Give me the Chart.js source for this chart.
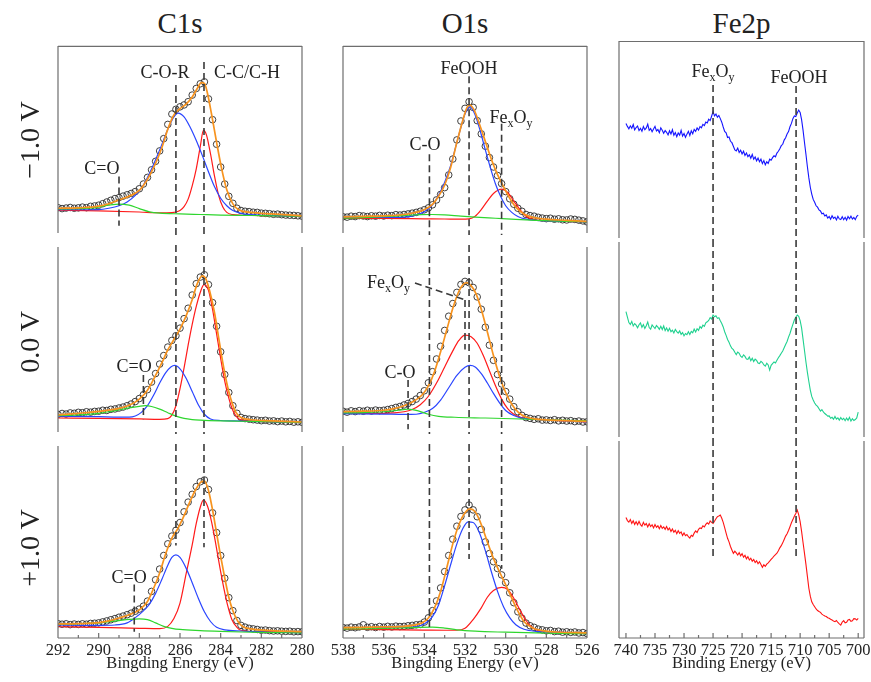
<!DOCTYPE html>
<html>
<head>
<meta charset="utf-8">
<script src="https://cdn.jsdelivr.net/npm/chart.js@4.4.0/dist/chart.umd.min.js"></script>
<style>
  html, body { margin: 0; padding: 0; overflow: hidden; background: #fff; }
  body { width: 871px; height: 682px; position: relative; font-family: "Liberation Serif", "Times New Roman", Times, "DejaVu Serif", serif; color: #222; }
  .box { position: absolute; }
  .title { position: absolute; top: 8px; width: 200px; font-size: 29px; line-height: 30px; text-align: center; }
  .side { position: absolute; font-size: 28px; white-space: nowrap; transform: translate(-50%, -50%) rotate(-90deg); }
</style>
</head>
<body>
<script>
// ---- C1s ----
const c1sEnergy = [292,291.8,291.6,291.4,291.2,291,290.8,290.6,290.4,290.2,290,289.8,289.6,289.4,289.2,289,288.8,288.6,288.4,288.2,
  288,287.8,287.6,287.4,287.2,287,286.8,286.6,286.4,286.2,286,285.8,285.6,285.4,285.2,285,284.8,284.6,284.4,284.2,
  284,283.8,283.6,283.4,283.2,283,282.8,282.6,282.4,282.2,282,281.8,281.6,281.4,281.2,281,280.8,280.6,280.4,280.2,280];
const c1sM10 = [14.5,14.0,14.3,14.6,14.2,14.4,14.8,14.5,15.2,15.4,15.8,16.6,17.5,18.4,19.3,19.8,20.6,21.3,22.0,23.0,
  24.5,27.0,30.5,34.5,39.0,44.5,51.0,58.5,64.0,66.5,67.8,68.8,70.5,74.0,77.5,80.0,81.0,72.0,61.0,48.0,
  36.0,27.0,20.5,16.8,14.2,13.0,12.6,12.4,12.1,12.0,11.6,11.5,11.3,11.0,11.1,10.8,10.6,10.5,10.4,10.2,10.0];
const c1s0 = [10.4,10.9,10.6,11.2,11.0,11.5,11.3,11.8,11.6,12.0,12.1,12.6,12.5,13.1,13.3,13.8,14.3,15.0,15.9,17.2,
  18.8,20.8,23.5,27.5,32.0,37.0,41.5,46.0,49.5,52.0,56.0,61.0,66.5,73.5,79.5,83.0,84.2,79.0,69.5,57.0,
  43.5,31.5,22.0,15.0,11.0,8.8,8.2,7.9,7.6,7.4,7.1,7.3,6.9,7.0,6.6,6.9,6.5,6.7,6.3,6.5,6.2];
const c1sP10 = [7.4,7.1,7.3,6.9,7.2,7.0,7.3,7.1,7.5,7.6,7.8,8.3,8.8,9.4,10.0,10.7,11.3,12.0,12.8,13.8,
  14.9,16.4,19.0,24.0,30.0,35.5,42.5,48.5,52.5,55.5,59.5,65.0,70.0,74.0,78.0,80.5,81.4,76.5,64.5,54.3,
  42.5,30.8,20.8,14.1,9.0,6.5,5.6,5.0,4.7,4.4,4.0,4.1,3.8,3.6,3.7,3.5,3.4,3.5,3.2,3.3,3.2];

const c1sM10Fit = [[292,14.2],[291,14.4],[290,15.3],[289.5,16.6],[289,18.6],[288.5,20.6],[288,23.6],[287.6,29.5],[287.2,38],[286.9,46],[286.6,56],[286.3,63.5],[286,66.8],[285.7,69.2],[285.4,73],[285.15,77.5],[284.95,80.6],[284.8,80.2],[284.65,75],[284.45,64],[284.2,49],[283.95,35],[283.7,24],[283.4,16.5],[283.1,13.3],[282.5,12.0],[281.5,11.2],[280,10.2]];
const c1sM10Red = [[292,13.2],[290,12.8],[288,12.2],[287,11.8],[286.4,11.9],[286,13],[285.8,15],[285.6,19],[285.4,26],[285.2,35],[285,47],[284.85,55.3],[284.7,53],[284.5,43],[284.3,31],[284.1,21],[283.9,15],[283.7,12],[283.4,10.8],[283,10.5],[282,10.3],[281,10.1],[280,10]];
const c1sM10Blue = [[292,13.4],[291,13.4],[290,13.5],[289.5,14.2],[289,15.5],[288.6,17.5],[288.2,21],[287.8,26.5],[287.4,35],[287,45],[286.6,56],[286.3,62.5],[286.1,64.5],[285.8,62.5],[285.5,57],[285.2,50],[284.9,42],[284.6,33.5],[284.3,25.5],[284,19.5],[283.7,15.5],[283.4,13],[283,11.5],[282.5,10.8],[282,10.5],[281,10.2],[280,10]];
const c1sM10Green = [[292,13.8],[291,14],[290.5,14.2],[290,14.8],[289.5,15.8],[289,16.4],[288.5,15.8],[288,14],[287.5,12.3],[287,11.6],[286,11.2],[285,10.9],[284,10.6],[283,10.4],[282,10.3],[281,10.1],[280,10]];

const c1s0Fit = [[292,10.2],[291,11],[290,12],[289,13.6],[288.5,15.2],[288,18.5],[287.6,23.2],[287.2,31],[286.9,37.5],[286.6,44.5],[286.3,50],[286,55.5],[285.7,62.5],[285.4,71],[285.15,79.5],[284.9,83.6],[284.75,82.5],[284.55,76],[284.3,64],[284.1,51],[283.9,38],[283.7,27],[283.5,18.5],[283.25,11.5],[283,8.8],[282.5,7.6],[281.5,7.0],[280,6.4]];
const c1s0Red = [[292,8.5],[290,8.3],[288,8.0],[287,7.8],[286.6,8.2],[286.4,10],[286.2,15],[286,24],[285.8,35],[285.6,47],[285.4,58],[285.2,67.5],[285,75],[284.82,79],[284.6,76],[284.4,66],[284.2,53],[284,40],[283.8,28],[283.6,19],[283.4,12.5],[283.2,9],[283,7.5],[282,6.6],[280,6.2]];
const c1s0Blue = [[292,9.5],[290,9.2],[289,9.0],[288.5,9.0],[288.2,9.6],[287.9,11.5],[287.6,15],[287.3,20.5],[287,27],[286.7,32.5],[286.45,35.5],[286.25,36.3],[286,34.5],[285.7,29.5],[285.4,22.5],[285.1,15.5],[284.8,10.5],[284.5,8.0],[284,7.2],[283,6.9],[282,6.6],[280,6.2]];
const c1s0Green = [[292,9.8],[291,10.2],[290,11],[289.5,11.8],[289,12.8],[288.5,13.9],[288,14.7],[287.7,15],[287.4,14.6],[287,13.2],[286.6,11.3],[286.2,9.5],[285.8,8.3],[285.4,7.7],[285,7.4],[284,7.0],[283,6.8],[282,6.6],[280,6.2]];

const c1sP10Fit = [[292,7.3],[291,7.4],[290,7.9],[289.5,8.8],[289,10.3],[288.5,12],[288,14.5],[287.6,18.8],[287.3,25.5],[287,33.5],[286.7,43.5],[286.4,51.5],[286.1,56.5],[285.8,63],[285.5,70.5],[285.2,77],[284.95,80.5],[284.8,80.8],[284.6,76],[284.4,66],[284.2,54],[284,42],[283.8,31],[283.6,21],[283.4,14],[283.15,8.5],[282.9,5.8],[282.5,4.7],[281.5,3.8],[280,3.3]];
const c1sP10Red = [[292,5.8],[290,5.5],[288,5.0],[287,4.8],[286.6,6],[286.3,10],[286,18],[285.7,33],[285.4,48],[285.2,59],[285,67.5],[284.85,71],[284.65,68],[284.45,60],[284.25,49],[284.05,37],[283.85,26],[283.65,16.5],[283.45,9.5],[283.2,5.5],[283,4],[282,3.3],[280,3.0]];
const c1sP10Blue = [[292,6.8],[290,6.5],[289.2,6.7],[288.6,7.8],[288.2,10.5],[287.8,14],[287.5,17.5],[287.2,23],[286.9,30],[286.6,37.5],[286.4,41.5],[286.2,42.8],[286,41.5],[285.7,36],[285.4,28.5],[285.1,20.5],[284.8,13.5],[284.5,8.5],[284.2,5.5],[283.8,4.2],[283,3.6],[282,3.2],[280,2.8]];
const c1sP10Green = [[292,7.2],[291,7.4],[290,7.8],[289.5,8.4],[289,9.0],[288.5,9.6],[288,9.9],[287.6,9.5],[287.2,7.8],[286.8,6.0],[286.4,5.0],[286,4.4],[285,3.8],[284,3.4],[283,3.1],[282,2.9],[280,2.6]];

// ---- O1s ----
const o1sEnergy = [538,537.8,537.6,537.4,537.2,537,536.8,536.6,536.4,536.2,536,535.8,535.6,535.4,535.2,535,534.8,534.6,534.4,534.2,
  534,533.8,533.6,533.4,533.2,533,532.8,532.6,532.4,532.2,532,531.8,531.6,531.4,531.2,531,530.8,530.6,530.4,530.2,
  530,529.8,529.6,529.4,529.2,529,528.8,528.6,528.4,528.2,528,527.8,527.6,527.4,527.2,527,526.8,526.6,526.4,526.2,526];
const o1sM10 = [9.7,9.5,10.0,9.8,10.3,10.1,9.8,10.2,10.0,10.4,10.1,10.5,10.3,10.8,10.6,10.9,11.2,11.6,12.0,12.6,
  13.4,14.4,16.0,18.6,21.5,25.1,31.8,40.2,50.3,60.3,67.0,70.5,67.5,60.5,53.5,47.0,41.0,36.0,31.5,27.2,
  23.0,19.2,16.3,14.2,12.6,10.9,10.3,10.0,9.4,9.0,8.7,8.9,8.4,8.6,8.1,8.0,8.5,8.3,7.9,7.5,7.0];
const o1s0 = [12.1,11.6,12.3,11.9,12.4,12.1,12.6,12.2,12.7,12.4,12.6,13.0,13.5,14.1,14.6,15.4,16.2,17.2,18.5,20.4,
  22.9,27.1,33.0,39.7,46.4,54.8,62.3,69.0,74.9,79.1,80.7,80.0,77.5,72.5,66.0,56.5,47.0,39.0,31.5,26.5,
  22.5,18.5,14.5,11.8,9.9,8.7,8.3,7.8,8.1,7.4,7.5,7.2,7.6,7.0,7.3,6.9,7.1,6.6,6.9,6.4,6.5];
const o1sP10 = [5.4,5.1,5.6,5.3,5.7,6.8,5.5,5.8,5.4,5.9,5.6,6.0,5.7,6.1,5.9,6.0,6.3,6.5,6.8,7.0,
  8.2,10.4,14.1,19.1,25.8,34.2,42.5,50.9,57.6,62.6,66.0,68.5,66.0,62.5,56.0,49.5,43.5,39.3,35.8,32.5,
  28.5,23.3,18.2,13.5,10.2,7.7,6.3,5.5,4.6,4.2,3.7,3.9,3.3,3.5,3.0,3.2,2.9,3.1,2.6,2.8,2.3];

const o1sM10Fit = [[538,9.6],[537,9.9],[536,10.2],[535,10.9],[534.5,11.8],[534,13.4],[533.6,16.2],[533.3,20.5],[533,26.5],[532.7,36],[532.4,49],[532.1,61],[531.9,67.5],[531.75,68.7],[531.55,66],[531.3,59],[531,49.5],[530.7,40],[530.4,32],[530.1,25.5],[529.8,19.5],[529.5,14.8],[529.1,11.2],[528.6,9.2],[528,8.4],[527,7.8],[526,7.2]];
const o1sM10Blue = [[538,9.3],[536,9.3],[535,9.5],[534.5,10.3],[534,12.3],[533.6,16],[533.3,21],[533,28],[532.7,37],[532.4,49],[532.2,57],[532,64],[531.75,67.8],[531.5,63.5],[531.25,55],[531,45],[530.75,35.5],[530.5,27],[530.25,20.5],[530,15.5],[529.7,12],[529.4,9.8],[529,8.4],[528.5,7.8],[528,7.5],[527,7.2],[526,7.0]];
const o1sM10Red = [[538,8.8],[536,8.8],[534,8.6],[533,8.5],[532.2,8.4],[531.8,8.6],[531.5,10],[531.2,13.5],[530.9,18],[530.6,22],[530.2,24.3],[529.9,22.5],[529.6,18],[529.3,13.5],[529,10],[528.6,8.2],[528,7.6],[527,7.3],[526,7.0]];
const o1sM10Green = [[538,8.9],[537,9.2],[536,9.7],[535,10.3],[534.2,10.8],[533.6,10.9],[533,10.7],[532.2,10],[531.5,9.5],[530.5,8.9],[529.5,8.3],[528.5,7.8],[527,7.3],[526,7.0]];

const o1s0Fit = [[538,11.9],[537,12.1],[536,12.6],[535.5,13.5],[535,15],[534.5,17.5],[534.1,20.8],[533.8,25.5],[533.5,33],[533.2,43.5],[532.9,55],[532.6,66.5],[532.3,75.5],[532.05,79.5],[531.9,80],[531.7,78.5],[531.45,74],[531.2,66],[530.9,54],[530.6,41.5],[530.3,30.5],[530,22],[529.7,15.8],[529.4,11.8],[529,9],[528.5,7.9],[527.5,7.3],[526,6.7]];
const o1s0Red = [[538,11],[537,11],[536,11],[535.5,11.2],[535,11.8],[534.6,13],[534.2,15.5],[533.8,20],[533.4,27],[533,35.5],[532.6,44],[532.3,49.5],[532,52.3],[531.7,51.5],[531.4,48],[531.1,41.5],[530.8,33.5],[530.5,25.5],[530.2,18.5],[529.9,13.5],[529.6,10.5],[529.3,9],[529,8.3],[528,7.5],[527,7],[526,6.5]];
const o1s0Blue = [[538,10.8],[536,10.6],[535,10.4],[534.4,10.5],[534,11.5],[533.6,13.5],[533.2,18],[532.8,24.5],[532.4,31],[532,35.3],[531.75,36.3],[531.5,35.5],[531.2,32],[530.9,27],[530.6,21.5],[530.3,16.5],[530,12.5],[529.6,9.8],[529.2,8.4],[528.5,7.8],[528,7.5],[527,7],[526,6.5]];
const o1s0Green = [[538,11.2],[537,11.4],[536,11.8],[535.3,12.6],[534.8,13.2],[534.3,12.3],[533.8,10.5],[533.3,9.4],[532.5,8.9],[531,8.5],[529,7.9],[527,7.3],[526,7.0]];

const o1sP10Fit = [[538,5.3],[537,5.5],[536,5.7],[535,6.0],[534.5,6.6],[534.1,7.8],[533.8,10.3],[533.5,15.5],[533.2,24],[532.9,36],[532.6,48.5],[532.3,58.5],[532,64.5],[531.75,66.5],[531.5,65],[531.2,58.5],[530.9,49.5],[530.6,41],[530.3,34],[530,27.5],[529.7,20.5],[529.4,13.8],[529.1,8.5],[528.7,5.3],[528.2,3.8],[527.5,3.1],[526,2.6]];
const o1sP10Red = [[538,4.5],[536,4.3],[534,4.1],[533,4],[532.4,4],[532,5],[531.6,9.5],[531.2,15.5],[530.9,21],[530.6,24.5],[530.2,26.1],[529.9,25],[529.6,20.5],[529.3,14.5],[529,9],[528.7,5.5],[528.4,3.8],[528,3.2],[527,2.8],[526,2.5]];
const o1sP10Blue = [[538,5.4],[536,5.4],[535,5.5],[534.5,5.8],[534,7.2],[533.6,11],[533.3,17],[533,27],[532.7,38],[532.4,48.5],[532.1,56.5],[531.85,59.8],[531.6,59.5],[531.3,54.5],[531,45],[530.7,34],[530.4,24],[530.1,16],[529.8,10.5],[529.5,6.8],[529.1,4.5],[528.5,3.4],[527.5,3],[526,2.5]];
const o1sP10Green = [[538,4.6],[537,4.7],[536,4.9],[535,5.2],[534.2,5.5],[533.6,5.6],[533,5.1],[532.4,4.2],[531.5,3.5],[530,3],[528,2.5],[526,2.2]];

// ---- Fe2p ----
const feEnergy = [
  740,739.75,739.5,739.25, 739,738.75,738.5,738.25, 738,737.75,737.5,737.25, 737,736.75,736.5,736.25,
  736,735.75,735.5,735.25, 735,734.75,734.5,734.25, 734,733.75,733.5,733.25, 733,732.75,732.5,732.25,
  732,731.75,731.5,731.25, 731,730.75,730.5,730.25, 730,729.75,729.5,729.25, 729,728.75,728.5,728.25,
  728,727.75,727.5,727.25, 727,726.75,726.5,726.25, 726,725.75,725.5,725.25, 725,724.75,724.5,724.25,
  724,723.75,723.5,723.25, 723,722.75,722.5,722.25, 722,721.75,721.5,721.25, 721,720.75,720.5,720.25,
  720,719.75,719.5,719.25, 719,718.75,718.5,718.25, 718,717.75,717.5,717.25, 717,716.75,716.5,716.25,
  716,715.75,715.5,715.25, 715,714.75,714.5,714.25, 714,713.75,713.5,713.25, 713,712.75,712.5,712.25,
  712,711.75,711.5,711.25, 711,710.75,710.5,710.25, 710,709.75,709.5,709.25, 709,708.75,708.5,708.25,
  708,707.75,707.5,707.25, 707,706.75,706.5,706.25, 706,705.75,705.5,705.25, 705,704.75,704.5,704.25,
  704,703.75,703.5,703.25, 703,702.75,702.5,702.25, 702,701.75,701.5,701.25, 701,700.75,700.5,700.25, 700];
const feM10 = [
  58.6,57.1,55.9,57.4, 56.2,58.0,55.3,56.5, 57.3,55.0,56.1,54.6, 57.0,55.4,56.3,58.2,
  55.1,56.0,54.4,55.8, 57.1,54.8,55.5,53.9, 56.4,55.2,53.6,55.0, 54.1,52.8,54.9,53.3,
  55.4,52.6,54.0,51.9, 53.8,52.7,55.1,52.2, 53.5,51.6,53.2,54.6, 52.5,54.9,53.4,55.6,
  54.6,56.3,55.2,57.0, 56.4,58.1,57.5,59.3, 58.8,60.7,60.0,62.2, 64.5,62.4,63.3,61.7,
  62.6,61.0,59.2,56.8, 54.6,53.9,51.5,51.8, 49.6,48.9,47.1,45.3, 44.8,46.2,44.0,45.1,
  43.2,44.6,42.5,43.7, 41.9,42.8,41.1,43.0, 40.6,41.7,39.8,41.2, 39.3,40.6,38.4,39.9,
  37.8,39.3,38.5,40.6, 40.1,41.4,42.3,41.8, 43.7,44.6,45.9,47.4, 48.1,50.2,51.4,53.3,
  54.5,56.9,58.6,61.0, 62.3,62.0,63.8,65.3, 64.1,60.5,55.2,49.0, 43.1,36.8,31.2,26.5,
  23.1,20.4,19.0,17.2, 16.5,15.1,14.6,13.2, 13.5,12.1,12.6,11.0, 11.8,10.4,12.2,10.9,
  11.5,10.1,11.9,10.6, 10.3,11.7,10.2,11.4, 10.0,11.8,10.7,12.0, 10.5,11.3,10.2,11.9, 12.4];
const fe0 = [
  64.0,61.2,58.5,57.6, 59.1,56.8,58.0,57.2, 55.9,57.4,58.3,56.1, 57.5,55.6,56.9,58.8,
  56.0,55.2,57.3,56.4, 55.5,57.0,56.2,55.1, 56.6,55.0,56.8,54.5, 55.8,54.2,55.6,53.9,
  54.7,53.3,55.1,54.0, 53.2,54.3,52.6,53.5, 51.8,53.0,52.4,53.9, 52.5,54.1,53.4,55.2,
  53.8,55.4,54.6,56.5, 55.7,57.2,56.6,58.4, 58.9,59.6,61.0,60.3, 62.3,61.4,61.9,60.6,
  60.9,59.4,58.0,56.3, 53.9,52.1,50.0,48.6, 46.8,45.5,44.9,43.6, 42.4,43.7,43.1,41.6,
  41.0,42.3,41.5,40.2, 40.0,41.2,39.3,40.6, 38.9,40.1,39.5,38.2, 37.9,39.0,38.4,37.2,
  36.6,38.1,37.2,34.6, 37.0,37.9,38.7,38.2, 39.6,40.8,41.9,43.1, 44.2,45.9,47.5,49.0,
  51.2,53.0,55.4,57.6, 59.8,61.2,62.3,61.6, 59.5,55.8,50.2,44.5, 38.7,33.5,28.9,24.6,
  21.4,19.6,18.1,17.0, 16.4,15.2,14.0,14.8, 13.6,12.8,12.2,11.5, 11.6,10.4,10.9,9.9,
  11.3,10.0,10.6,9.5, 10.8,9.7,10.4,9.2, 10.5,9.4,10.9,9.0, 10.2,9.3,9.8,10.6, 13.5];
const feP10 = [
  60.6,59.0,58.2,59.5, 57.6,58.9,57.1,58.4, 56.9,58.6,57.0,56.2, 58.1,56.7,57.5,55.8,
  57.4,56.0,56.9,55.3, 57.0,55.6,56.4,54.9, 56.5,55.1,55.8,54.6, 56.0,54.3,55.2,53.5,
  54.8,53.2,54.1,52.4, 53.9,52.6,53.3,51.5, 52.8,51.4,52.0,50.9, 50.2,51.6,51.1,52.7,
  53.8,53.0,54.6,55.3, 55.0,56.4,55.8,57.1, 57.9,57.2,58.8,58.1, 57.6,58.7,59.9,61.0,
  61.3,61.8,60.2,58.1, 55.5,52.7,50.1,48.3, 46.0,44.2,42.5,43.6, 42.8,41.7,42.9,41.3,
  42.4,40.6,41.5,39.8, 40.9,39.2,40.1,38.6, 39.4,37.9,38.8,37.3, 38.3,36.9,35.5,36.8,
  36.0,37.1,37.8,38.6, 39.5,40.3,41.2,41.9, 42.6,43.8,45.3,46.4, 47.8,49.5,51.2,52.4,
  54.0,55.9,57.9,59.5, 61.2,62.6,64.3,62.0, 58.5,53.6,48.0,42.5, 37.0,31.0,25.0,21.0,
  18.2,16.8,15.7,14.6, 13.8,13.3,12.9,12.0, 11.5,11.1,10.8,10.2, 9.9,9.4,9.0,8.5,
  8.2,8.8,7.8,7.1, 6.5,8.0,8.7,7.6, 7.9,9.1,9.3,8.4, 8.6,9.7,9.6,9.0, 9.9];

// tick labels
const c1sTicks = [292, 290, 288, 286, 284, 282, 280];
const c1sMinor = [291, 289, 287, 285, 283, 281];
const o1sTicks = [538, 536, 534, 532, 530, 528, 526];
const o1sMinor = [537, 535, 533, 531, 529, 527];
const feTicks = [740, 735, 730, 725, 720, 715, 710, 705, 700];
const feMinor = [737.5, 732.5, 727.5, 722.5, 717.5, 712.5, 707.5, 702.5];
const rowNames = ['\u22121.0 V', '0.0 V', '+1.0 V'];

// reference lines: energy, [row, intensity] start and end
const c1sMarkers = [
  { e: 289.0, from: [0, 31], to: [0, 5] },
  { e: 287.8, from: [1, 31.3], to: [1, 7.9] },
  { e: 288.25, from: [2, 27.5], to: [2, 3.2] },
  { e: 286.2, from: [0, 79.4], to: [2, 47.7] },
  { e: 284.82, from: [0, 91.5], to: [2, 46.7] }
];
const o1sMarkers = [
  { e: 533.75, from: [0, 42.7], to: [2, 5.5] },
  { e: 531.8, from: [0, 83.9], to: [2, 40.7] },
  { e: 530.2, from: [0, 58.8], to: [2, 35.7] },
  { e: 534.8, from: [1, 28.6], to: [1, 2.5] },
  { e: 532.0, from: [1, 70.9], to: [1, 44.7] }
];
const feMarkers = [
  { e: 725.0, from: [0, 77.9], to: [2, 40.7] },
  { e: 710.7, from: [0, 77.4], to: [2, 40.7] }
];
const c1sLabels = [
  { row: 0, e: 286.74, v: 82.9, t: 'C-O-R' },
  { row: 0, e: 282.7, v: 82.9, t: 'C-C/C-H' },
  { row: 0, e: 289.84, v: 32.2, t: 'C=O' },
  { row: 1, e: 288.26, v: 33.0, t: 'C=O' },
  { row: 2, e: 288.5, v: 28.3, t: 'C=O' }
];
const o1sLabels = [
  { row: 0, e: 531.8, v: 85.4, t: 'FeOOH' },
  { row: 0, e: 533.97, v: 45.2, t: 'C-O' },
  { row: 0, e: 529.74, v: 59.3, t: 'Fe_xO_y' },
  { row: 1, e: 535.76, v: 77.4, t: 'Fe_xO_y' },
  { row: 1, e: 535.2, v: 29.6, t: 'C-O' }
];
const o1sLeaders = [{ row: 1, from: [534.46, 79.9], to: [532.0, 70.9] }];
const feLabels = [
  { row: 0, e: 725.0, v: 81.9, t: 'Fe_xO_y' },
  { row: 0, e: 710.2, v: 78.9, t: 'FeOOH' }
];

// layout
const colBox = [{ l: 58, r: 302 }, { l: 343, r: 587 }, { l: 619, r: 864 }];
const rowTop = [41, 240, 439];
const rowH = 199, axisH = 44, sidePad = 20;
const rowLabelY = [140, 342, 548];
const serif = '"Liberation Serif", "Times New Roman", Times, "DejaVu Serif", serif';

Chart.defaults.font.family = serif;
Chart.defaults.color = '#222';
Chart.defaults.animation = false;

function pairs(list) { return list.map(p => ({ x: p[0], y: p[1] })); }
function zip(xs, ys) { return xs.map((x, i) => ({ x: x, y: ys[i] })); }

function dots(data) {
  return { data: data, showLine: false, pointRadius: 3.3, pointBorderWidth: 0.9,
    pointBorderColor: '#2b2b2b', pointBackgroundColor: 'rgba(255,255,255,0)', order: 3 };
}
function curve(data, color, width, order) {
  return { data: data, borderColor: color, borderWidth: width, pointRadius: 0,
    cubicInterpolationMode: 'monotone', fill: false, order: order };
}
function noisy(data, color) {
  return { data: data, borderColor: color, borderWidth: 1.1, pointRadius: 0, tension: 0 };
}

const panels = [
  { name: 'C1s', min: 280, max: 292, ticks: c1sTicks, minor: c1sMinor, axis: 'Bingding Energy (eV)',
    markers: c1sMarkers, labels: c1sLabels, leaders: [],
    rows: [
      [dots(zip(c1sEnergy, c1sM10)), curve(pairs(c1sM10Green), '#2fd62f', 1.2, 2), curve(pairs(c1sM10Blue), '#2a45ff', 1.2, 2), curve(pairs(c1sM10Red), '#ff1a1a', 1.2, 2), curve(pairs(c1sM10Fit), '#f7931e', 1.7, 1)],
      [dots(zip(c1sEnergy, c1s0)), curve(pairs(c1s0Green), '#2fd62f', 1.2, 2), curve(pairs(c1s0Blue), '#2a45ff', 1.2, 2), curve(pairs(c1s0Red), '#ff1a1a', 1.2, 2), curve(pairs(c1s0Fit), '#f7931e', 1.7, 1)],
      [dots(zip(c1sEnergy, c1sP10)), curve(pairs(c1sP10Green), '#2fd62f', 1.2, 2), curve(pairs(c1sP10Blue), '#2a45ff', 1.2, 2), curve(pairs(c1sP10Red), '#ff1a1a', 1.2, 2), curve(pairs(c1sP10Fit), '#f7931e', 1.7, 1)]
    ] },
  { name: 'O1s', min: 526, max: 538, ticks: o1sTicks, minor: o1sMinor, axis: 'Bingding Energy (eV)',
    markers: o1sMarkers, labels: o1sLabels, leaders: o1sLeaders,
    rows: [
      [dots(zip(o1sEnergy, o1sM10)), curve(pairs(o1sM10Green), '#2fd62f', 1.2, 2), curve(pairs(o1sM10Blue), '#2a45ff', 1.2, 2), curve(pairs(o1sM10Red), '#ff1a1a', 1.2, 2), curve(pairs(o1sM10Fit), '#f7931e', 1.7, 1)],
      [dots(zip(o1sEnergy, o1s0)), curve(pairs(o1s0Green), '#2fd62f', 1.2, 2), curve(pairs(o1s0Blue), '#2a45ff', 1.2, 2), curve(pairs(o1s0Red), '#ff1a1a', 1.2, 2), curve(pairs(o1s0Fit), '#f7931e', 1.7, 1)],
      [dots(zip(o1sEnergy, o1sP10)), curve(pairs(o1sP10Green), '#2fd62f', 1.2, 2), curve(pairs(o1sP10Blue), '#2a45ff', 1.2, 2), curve(pairs(o1sP10Red), '#ff1a1a', 1.2, 2), curve(pairs(o1sP10Fit), '#f7931e', 1.7, 1)]
    ] },
  { name: 'Fe2p', min: 699, max: 741.2, ticks: feTicks, minor: feMinor, axis: 'Binding Energy (eV)',
    markers: feMarkers, labels: feLabels, leaders: [],
    rows: [
      [noisy(zip(feEnergy, feM10), '#1414ff')],
      [noisy(zip(feEnergy, fe0), '#1fd18f')],
      [noisy(zip(feEnergy, feP10), '#ff1414')]
    ] }
];

function drawRich(ctx, text, cx, by) {
  const parts = [];
  for (let i = 0; i < text.length; i++) {
    if (text[i] === '_') { parts.push([text[i + 1], true]); i++; }
    else parts.push([text[i], false]);
  }
  const big = '18px ' + serif, small = '12px ' + serif;
  let w = 0;
  parts.forEach(p => { ctx.font = p[1] ? small : big; p.push(ctx.measureText(p[0]).width); w += p[2]; });
  let x = cx - w / 2;
  ctx.textAlign = 'left';
  ctx.textBaseline = 'alphabetic';
  parts.forEach(p => {
    ctx.font = p[1] ? small : big;
    ctx.fillText(p[0], x, p[1] ? by + 4 : by);
    x += p[2];
  });
}

function framePlugin(panel, row) {
  return {
    id: 'xpsFrame',
    afterDatasetsDraw(chart) {
      const ctx = chart.ctx, a = chart.chartArea, sx = chart.scales.x, sy = chart.scales.y;
      ctx.save();

      // dashed reference lines
      ctx.strokeStyle = '#3a3a3a';
      ctx.lineWidth = 1.6;
      ctx.setLineDash([7, 4]);
      panel.markers.forEach(m => {
        if (row < m.from[0] || row > m.to[0]) return;
        const top = row === m.from[0] ? sy.getPixelForValue(m.from[1]) : a.top;
        const bot = row === m.to[0] ? sy.getPixelForValue(m.to[1]) : a.bottom;
        const px = sx.getPixelForValue(m.e);
        ctx.beginPath(); ctx.moveTo(px, top); ctx.lineTo(px, bot); ctx.stroke();
      });
      panel.leaders.filter(l => l.row === row).forEach(l => {
        ctx.beginPath();
        ctx.moveTo(sx.getPixelForValue(l.from[0]), sy.getPixelForValue(l.from[1]));
        ctx.lineTo(sx.getPixelForValue(l.to[0]), sy.getPixelForValue(l.to[1]));
        ctx.stroke();
      });
      ctx.setLineDash([]);

      // frame, broken between rows
      ctx.strokeStyle = '#6e6e6e';
      ctx.lineWidth = 1.2;
      const gTop = row === 0 ? 0 : 2, gBot = row === 2 ? 0 : 2;
      ctx.beginPath();
      ctx.moveTo(a.left, a.top + gTop); ctx.lineTo(a.left, a.bottom - gBot);
      ctx.moveTo(a.right, a.top + gTop); ctx.lineTo(a.right, a.bottom - gBot);
      if (row === 0) { ctx.moveTo(a.left, a.top + 0.5); ctx.lineTo(a.right, a.top + 0.5); }
      if (row === 2) {
        ctx.moveTo(a.left, a.bottom); ctx.lineTo(a.right, a.bottom);
        panel.ticks.forEach(v => { const px = sx.getPixelForValue(v); ctx.moveTo(px, a.bottom); ctx.lineTo(px, a.bottom - 5); });
        panel.minor.forEach(v => { const px = sx.getPixelForValue(v); ctx.moveTo(px, a.bottom); ctx.lineTo(px, a.bottom - 3); });
      }
      ctx.stroke();

      // peak labels
      ctx.fillStyle = '#222';
      panel.labels.filter(l => l.row === row).forEach(l => {
        drawRich(ctx, l.t, sx.getPixelForValue(l.e), sy.getPixelForValue(l.v));
      });
      ctx.restore();
    }
  };
}

panels.forEach((panel, c) => {
  const box = colBox[c];
  const t = document.createElement('div');
  t.className = 'title';
  t.textContent = panel.name;
  t.style.left = ((box.l + box.r) / 2 - 100) + 'px';
  document.body.appendChild(t);

  panel.rows.forEach((datasets, row) => {
    const div = document.createElement('div');
    div.className = 'box';
    div.style.left = (box.l - sidePad) + 'px';
    div.style.top = rowTop[row] + 'px';
    div.style.width = (box.r - box.l + 2 * sidePad) + 'px';
    div.style.height = (rowH + (row === 2 ? axisH : 0)) + 'px';
    const cv = document.createElement('canvas');
    div.appendChild(cv);
    document.body.appendChild(div);

    new Chart(cv, {
      type: 'line',
      data: { datasets: datasets },
      options: {
        responsive: true,
        maintainAspectRatio: false,
        events: [],
        layout: { padding: { left: sidePad, right: sidePad, top: 0, bottom: 0 } },
        plugins: { legend: { display: false }, tooltip: { enabled: false } },
        scales: {
          x: {
            type: 'linear', min: panel.min, max: panel.max, reverse: true,
            display: row === 2,
            grid: { display: false, drawTicks: false },
            border: { display: false },
            ticks: { autoSkip: false, maxRotation: 0, padding: 3, font: { size: 16.5 }, color: '#222' },
            title: { display: true, text: panel.axis, font: { size: 16.5 }, color: '#222', padding: { top: 0, bottom: 8 } },
            afterBuildTicks: s => { s.ticks = panel.ticks.map(v => ({ value: v })); },
            afterFit: s => { if (row === 2) s.height = axisH; }
          },
          y: { type: 'linear', min: 0, max: 100, display: false }
        }
      },
      plugins: [framePlugin(panel, row)]
    });
  });
});

rowNames.forEach((name, i) => {
  const d = document.createElement('div');
  d.className = 'side';
  d.textContent = name;
  d.style.left = '30px';
  d.style.top = rowLabelY[i] + 'px';
  document.body.appendChild(d);
});
</script>
</body>
</html>
